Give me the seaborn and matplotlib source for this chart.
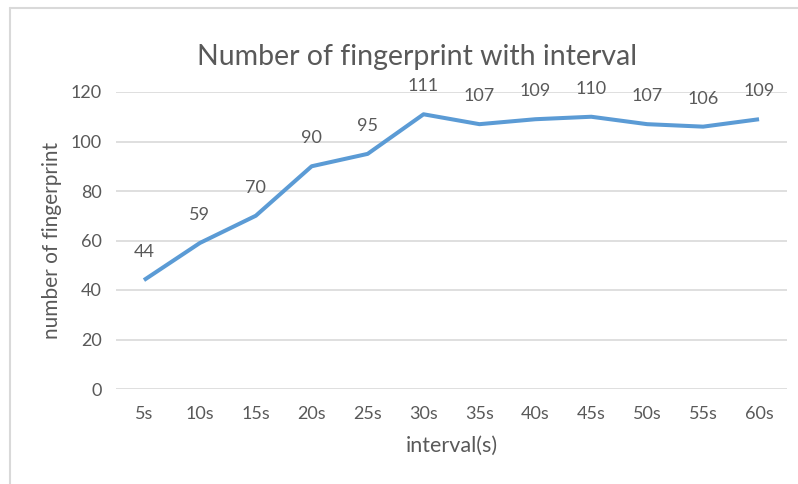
import matplotlib
matplotlib.use("Agg")
import matplotlib.pyplot as plt
import seaborn as sns
import pandas as pd
from matplotlib.lines import Line2D

intervals = ["5s", "10s", "15s", "20s", "25s", "30s", "35s", "40s", "45s", "50s", "55s", "60s"]
fingerprints = [44, 59, 70, 90, 95, 111, 107, 109, 110, 107, 106, 109]
y_ticks = [0, 20, 40, 60, 80, 100, 120]

title = "Number of fingerprint with interval"
x_label = "interval(s)"
y_label = "number of fingerprint"

sns.set_theme(style="white")
plt.rcParams["font.family"] = ["Lato", "DejaVu Sans"]

text_color = "#595959"
grid_color = "#D9D9D9"
line_color = "#5B9BD5"

df = pd.DataFrame({"interval": intervals, "count": fingerprints})

fig = plt.figure(figsize=(7.98, 4.84), dpi=100)
ax = fig.add_axes([116 / 798, 1 - 389 / 484, (787 - 116) / 798, (389 - 92) / 484])

sns.lineplot(data=df, x="interval", y="count", ax=ax, sort=False,
             color=line_color, linewidth=2.9, solid_capstyle="butt", zorder=3)

ax.set_xlim(-0.5, len(intervals) - 0.5)
ax.set_ylim(0, 120)
ax.set_yticks(y_ticks)
ax.yaxis.grid(True, color=grid_color, linewidth=1.2)
ax.xaxis.grid(False)
for s in ax.spines.values():
    s.set_visible(False)
ax.tick_params(axis="both", length=0, labelsize=13, colors=text_color)
ax.tick_params(axis="x", pad=12)
ax.tick_params(axis="y", pad=10)
ax.set_xlabel("")
ax.set_ylabel("")

# value labels above each point
for i, v in enumerate(fingerprints):
    ax.annotate(str(v), (i, v), xytext=(0, 20), textcoords="offset points",
                ha="center", va="center", fontsize=13, color=text_color,
                annotation_clip=False)

fig.text(417 / 798, 1 - 57 / 484, title, ha="center", va="center",
         fontsize=20.5, color=text_color)
fig.text(452 / 798, 1 - 446 / 484, x_label, ha="center", va="center",
         fontsize=15.5, color=text_color)
fig.text(52 / 798, 1 - 240 / 484, y_label, ha="center", va="center",
         rotation=90, fontsize=15, color=text_color)

# chart-area border (left and top edges)
fig.add_artist(Line2D([10 / 798, 10 / 798], [0, 1 - 8 / 484],
                      transform=fig.transFigure, color=grid_color, linewidth=1.5))
fig.add_artist(Line2D([10 / 798, 1], [1 - 8 / 484, 1 - 8 / 484],
                      transform=fig.transFigure, color=grid_color, linewidth=1.5))

fig.savefig("out.png", dpi=100, facecolor="white")
